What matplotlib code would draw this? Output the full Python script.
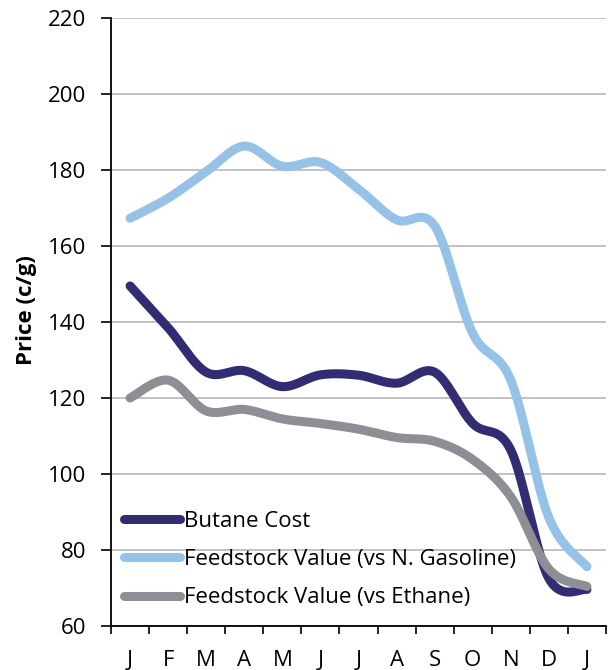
import matplotlib.pyplot as plt
import numpy as np

# %% data
months = ['J', 'F', 'M', 'A', 'M', 'J', 'J', 'A', 'S', 'O', 'N', 'D', 'J']
butane = [149.5, 138.5, 126.8, 127.2, 123.0, 126.1, 126.0, 123.9, 126.8, 113.3, 106.3, 72.5, 69.6]
gasoline = [167.3, 172.6, 179.6, 186.3, 181.0, 182.0, 175.0, 166.9, 165.3, 137.0, 124.7, 88.5, 75.6]
ethane = [120.0, 124.7, 116.6, 117.0, 114.5, 113.3, 111.8, 109.6, 108.6, 103.8, 94.0, 75.0, 70.4]

names = ['Butane Cost', 'Feedstock Value (vs N. Gasoline)', 'Feedstock Value (vs Ethane)']
colors = ['#322C73', '#96C2E8', '#8E8F94']


# %% smoothing like the spreadsheet "smoothed line" (Catmull-Rom via Bezier)
def smooth(y, n=40):
    x = np.arange(len(y), dtype=float)
    y = np.asarray(y, dtype=float)
    px = np.concatenate([[x[0]], x, [x[-1]]])
    py = np.concatenate([[y[0]], y, [y[-1]]])
    xs, ys = [], []
    t = np.linspace(0, 1, n)
    for i in range(len(x) - 1):
        p0 = np.array([px[i + 1], py[i + 1]])
        p3 = np.array([px[i + 2], py[i + 2]])
        p1 = p0 + (np.array([px[i + 2], py[i + 2]]) - np.array([px[i], py[i]])) / 6
        p2 = p3 - (np.array([px[i + 3], py[i + 3]]) - np.array([px[i + 1], py[i + 1]])) / 6
        b = ((1 - t) ** 3)[:, None] * p0 + (3 * (1 - t) ** 2 * t)[:, None] * p1 \
            + (3 * (1 - t) * t ** 2)[:, None] * p2 + (t ** 3)[:, None] * p3
        xs.append(b[:, 0])
        ys.append(b[:, 1])
    return np.concatenate(xs), np.concatenate(ys)


# %% plot
plt.rcParams['font.family'] = ['Open Sans', 'DejaVu Sans']
fs = 16
fig = plt.figure(figsize=(6.08, 6.70), dpi=100)
ax = fig.add_axes([0.1826, 0.0657, 0.8141, 0.9073])

for series, name, c in zip([butane, gasoline, ethane], names, colors):
    sx, sy = smooth(series)
    ax.plot(sx, sy, color=c, lw=6.5, solid_capstyle='round', label=name, zorder=3)

ax.set_ylim(60, 220)
ax.set_yticks(np.arange(60, 221, 20))
ax.set_xlim(-0.5, len(months) - 0.5)
ax.set_xticks(np.arange(-0.5, len(months), 1))
ax.set_xticklabels([])
ax.set_xticks(np.arange(len(months)), minor=True)
ax.set_xticklabels(months, minor=True)
ax.tick_params(axis='x', which='minor', length=0, pad=17, labelsize=fs)
ax.tick_params(axis='x', which='major', length=6, width=1.2, direction='out')
ax.tick_params(axis='y', length=7, width=1.2, pad=11, labelsize=fs)

ax.grid(axis='y', color='#BDBDC0', lw=1.3, zorder=0)
for s in ['top', 'right']:
    ax.spines[s].set_visible(False)
for s in ['left', 'bottom']:
    ax.spines[s].set_linewidth(1.3)
ax.spines['bottom'].set_zorder(4)

ax.set_ylabel('Price (c/g)', fontsize=fs, fontweight='bold')
ax.yaxis.set_label_coords(-0.15, 0.52)

ax.legend(loc='lower left', bbox_to_anchor=(0.0, 0.007), frameon=False,
          fontsize=fs, handlelength=2.5, handletextpad=0.2, labelspacing=0.78,
          borderaxespad=0.2)

fig.savefig('out.png', dpi=100)
